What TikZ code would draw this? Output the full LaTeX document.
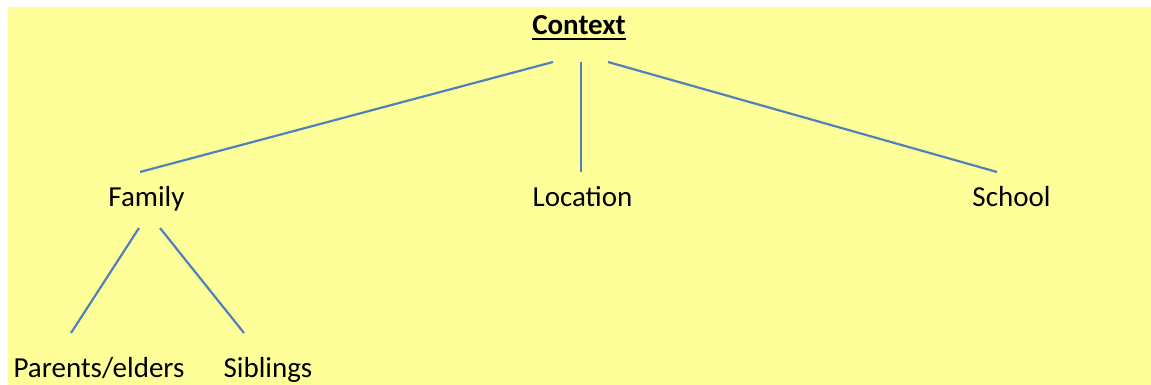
\documentclass[tikz,border=0pt]{standalone}
\usepackage{fontspec}
\setmainfont{Carlito}
\usepackage{xcolor}
\usepackage{tikz}
\usetikzlibrary{positioning}
\definecolor{notepad}{HTML}{FFFF99}
\definecolor{linkblue}{HTML}{4F81BD}
\newcommand{\headline}[1]{\setbox0\hbox{#1}\rlap{\raisebox{-5pt}{\rule{\wd0}{2.2pt}}}\box0}
\tikzstyle{topic} = [inner sep=0pt, anchor=base, text height=19pt, text depth=7pt, outer ysep=15pt, font=\fontsize{29}{35}\selectfont]
\tikzstyle{leaf} = [topic, outer ysep=25pt]
\tikzstyle{link} = [draw=linkblue, line width=2.2pt]

\begin{document}
\begin{tikzpicture}[x=1pt, y=-1pt]

\useasboundingbox (0,0) rectangle (1151,385);
\fill[notepad] (8,7) rectangle (1151,385);

\node[topic, outer ysep=20pt, font=\fontsize{29}{35}\selectfont\bfseries] (ctx) at (579,35) {\headline{Context}};

\node[topic] (family) at (146.5,206) {Family};
\node[topic] (location) at (582.5,206) {Location};
\node[topic] (school) at (1011.5,206) {School};

\node[leaf] (parents) at (99,377) {Parents/elders};
\node[leaf] (siblings) at (268,377) {Siblings};

% branches from the top, then under Family
\draw[link] ([xshift=-26pt]ctx.south) -- ([xshift=-6.5pt]family.north);
\draw[link] ([xshift=2pt]ctx.south) -- ([xshift=-1.5pt]location.north);
\draw[link] ([xshift=29pt]ctx.south) -- ([xshift=-14.5pt]school.north);
\draw[link] ([xshift=-7.5pt]family.south) -- ([xshift=-28pt]parents.north);
\draw[link] ([xshift=13.5pt]family.south) -- ([xshift=-24pt]siblings.north);

\end{tikzpicture}
\end{document}
